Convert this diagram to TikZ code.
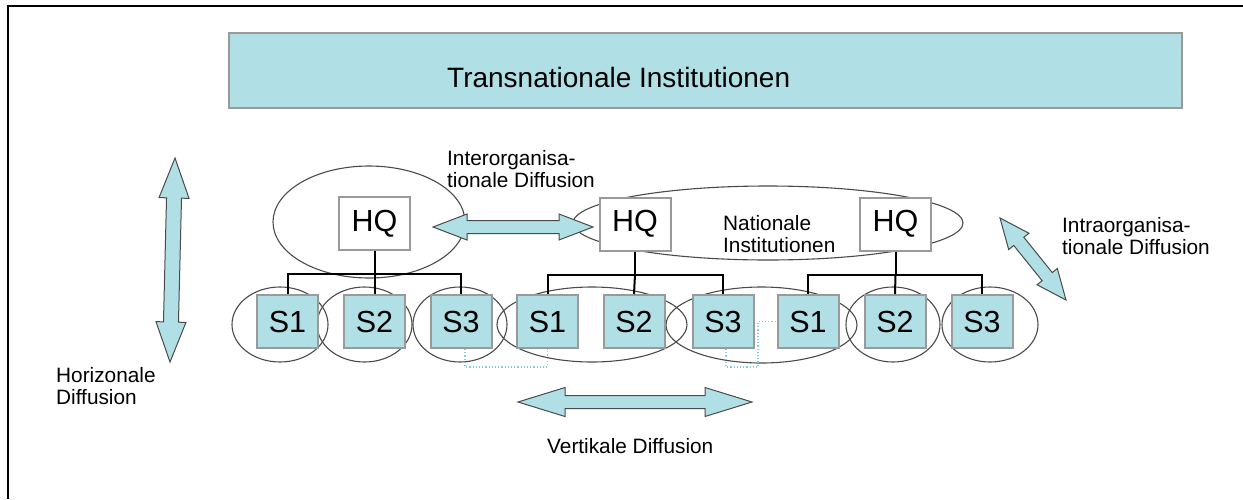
\documentclass[tikz,border=0pt]{standalone}
\usepackage{fontspec}
\setmainfont{Liberation Sans}
\usetikzlibrary{calc,shapes.geometric}

\definecolor{pale}{HTML}{B0E0E6}
\definecolor{boxline}{HTML}{9A9A9A}
\definecolor{ringline}{HTML}{4A4A4A}
\definecolor{dotcol}{HTML}{86CCD6}

% double-headed block arrow between two named coordinates:
% #1 start, #2 end, #3 head length, #4 head half width, #5 shaft half width
\newcommand{\diffarrow}[5]{%
  \draw[barrow] (#1)
    -- ($(#1)!#3!(#2)!#4!90:(#2)$) -- ($(#1)!#3!(#2)!#5!90:(#2)$)
    -- ($(#2)!#3!(#1)!#5!-90:(#1)$) -- ($(#2)!#3!(#1)!#4!-90:(#1)$)
    -- (#2)
    -- ($(#2)!#3!(#1)!#4!90:(#1)$) -- ($(#2)!#3!(#1)!#5!90:(#1)$)
    -- ($(#1)!#3!(#2)!#5!-90:(#2)$) -- ($(#1)!#3!(#2)!#4!-90:(#2)$)
    -- cycle;}

\tikzset{
  hqbox/.style={draw=boxline, line width=2pt, fill=white, minimum width=71pt,
    minimum height=53pt, inner sep=0pt, font=\fontsize{30.5}{34}\selectfont},
  sbox/.style={draw=boxline, line width=2pt, fill=pale, minimum width=61pt,
    minimum height=53pt, inner sep=0pt, font=\fontsize{30.5}{34}\selectfont},
  ring/.style={ellipse, draw=ringline, line width=1.1pt, inner sep=0pt, outer sep=0pt},
  tree/.style={draw=black, line width=2pt},
  dotline/.style={draw=dotcol, line width=1.2pt, dotted},
  barrow/.style={draw=ringline, line width=1pt, fill=pale, line join=miter},
  label/.style={align=left, inner sep=0pt, font=\fontsize{20.8}{22}\selectfont},
}

\begin{document}
\begin{tikzpicture}[x=1pt,y=-1pt]
\useasboundingbox (0,0) rectangle (1243,499);

% outer frame
\draw[line width=2pt] (8,499) -- (8,6) -- (1243,6);

% transnational level
\node[draw=boxline, line width=2pt, fill=pale, minimum width=953pt,
  minimum height=75pt, inner sep=0pt] (trans) at (705.5,70.5) {};
\node[anchor=base west, inner sep=0pt, font=\fontsize{28}{32}\selectfont]
  (transtext) at (447,87) {Transnationale Institutionen};

% rings: organisation and national institutions
\node[ring, minimum width=192pt, minimum height=112pt] (org1) at (369,222) {};
\node[ring, minimum width=390pt, minimum height=74pt] (nat) at (768,223) {};

% headquarters
\node[hqbox] (hq1) at (374.5,223.5) {HQ};
\node[hqbox] (hq2) at (635,224) {HQ};
\node[hqbox] (hq3) at (895.5,224) {HQ};

\node[label, anchor=north west] (natlabel) at (723,215) {Nationale\\Institutionen};

% rings round subsidiaries
\node[ring, minimum width=96pt, minimum height=75pt] (r1) at (280,324.5) {};
\node[ring, minimum width=95pt, minimum height=75pt] (r2) at (364.5,324.5) {};
\node[ring, minimum width=94pt, minimum height=75pt] (r3) at (460,324.5) {};
\node[ring, minimum width=190pt, minimum height=75pt] (r4) at (592,324.5) {};
\node[ring, minimum width=191pt, minimum height=76pt] (r5) at (761.5,325) {};
\node[ring, minimum width=94pt, minimum height=75pt] (r6) at (893,324.5) {};
\node[ring, minimum width=96pt, minimum height=75pt] (r7) at (990,324.5) {};

% subsidiaries
\node[sbox] (s11) at (287.5,321.5) {S1};
\node[sbox] (s12) at (374.5,321.5) {S2};
\node[sbox] (s13) at (461,321.5) {S3};
\node[sbox] (s21) at (547.5,321.5) {S1};
\node[sbox] (s22) at (634,321.5) {S2};
\node[sbox] (s23) at (723,321.5) {S3};
\node[sbox] (s31) at (808,321.5) {S1};
\node[sbox] (s32) at (895,321.5) {S2};
\node[sbox] (s33) at (982,321.5) {S3};

% organisation trees
\foreach \h/\a/\b/\c in {hq1/s11/s12/s13, hq2/s21/s22/s23, hq3/s31/s32/s33}{
  \draw[tree] (\h.south) -- ++(0,23) coordinate (bar);
  \draw[tree] (\a.north) |- (bar) -| (\c.north);
  \draw[tree] (bar) -- (\b.north);
}

% dotted links between subsidiaries
\draw[dotline] ([xshift=4pt]s13.south) -- ++(0,18) -| (s21.south);
\draw[dotline] ([xshift=3pt]s23.south) -- ++(0,18) -- ++(32,0) |- (s31.west);

% diffusion arrows
\coordinate (ia) at (433,227);  \coordinate (ib) at (593,227);
\coordinate (ha) at (175,158);  \coordinate (hb) at (170,362);
\coordinate (ra) at (1000,218); \coordinate (rb) at (1066,300);
\coordinate (va) at (518,402);  \coordinate (vb) at (752,402);
\diffarrow{ia}{ib}{34pt}{13pt}{6.5pt}
\diffarrow{ha}{hb}{40pt}{15pt}{7.5pt}
\diffarrow{ra}{rb}{30pt}{13pt}{6.5pt}
\diffarrow{va}{vb}{47pt}{14.5pt}{6.5pt}

% labels
\node[label, anchor=north west] (interlabel) at (447,150) {Interorganisa-\\tionale Diffusion};
\node[label, anchor=north west] (intralabel) at (1062,217) {Intraorganisa-\\tionale Diffusion};
\node[label, anchor=north west] (horlabel) at (56,367) {Horizonale\\Diffusion};
\node[label, anchor=north west] (verlabel) at (547,438) {Vertikale Diffusion};
\end{tikzpicture}
\end{document}
